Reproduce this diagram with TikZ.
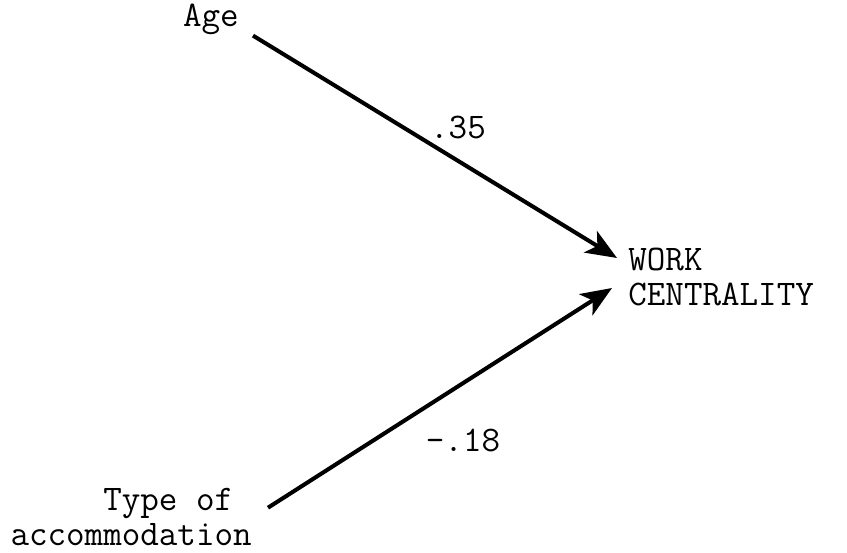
\documentclass[tikz,border=0pt]{standalone}
\usepackage{tikz}
\usetikzlibrary{arrows.meta,positioning,calc}

\begin{document}
\begin{tikzpicture}[x=0.02cm, y=-0.02cm, every node/.style={inner sep=0pt, font=\ttfamily\fontsize{20.5}{20}\selectfont}]
        % define styles
        \tikzstyle{varname} = [text=black]
        \tikzstyle{coef} = [text=black]
        \tikzstyle{arrow} = [line width=2.3pt, -{Stealth[length=0.62cm, width=0.5cm, inset=0.16cm]}]

        \useasboundingbox (0,0) rectangle (847,553);

        % create nodes
        \node (age) [varname, anchor=base east] at (239,27) {Age};
        \node (type) [varname, align=right, anchor=south east] at (252,546) {Type of\hphantom{x}\\accommodation};
        \node (work) [varname, align=left, anchor=west] at (628,277) {WORK\\CENTRALITY};
        \node (c1) [coef] at (458,128) {.35};
        \node (c2) [coef] at (463,440) {-.18};

        % connect nodes
        \draw [arrow] ([xshift=0.28cm]age.south east) -- ([xshift=-0.22cm, yshift=0.38cm]work.west);
        \draw [arrow] ([xshift=0.32cm, yshift=-0.4cm]type.north east) -- ([xshift=-0.32cm, yshift=-0.22cm]work.west);
\end{tikzpicture}
\end{document}
